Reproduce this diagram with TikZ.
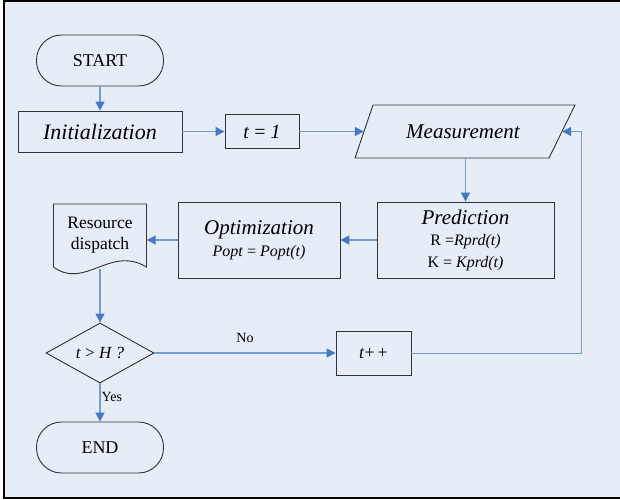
\documentclass[tikz,border=0pt]{standalone}
\usepackage{fontspec}
\setmainfont{Liberation Serif}
\usetikzlibrary{arrows.meta,shapes.geometric}
\definecolor{bgblue}{RGB}{230,237,247}
\definecolor{lineblue}{RGB}{115,155,212}
\definecolor{tipblue}{RGB}{70,120,200}
\definecolor{edgegray}{RGB}{50,50,50}
\begin{document}
\begin{tikzpicture}[x=1pt,y=-1pt,
  box/.style={draw=edgegray,line width=0.9pt,inner sep=0pt},
  conn/.style={draw=lineblue,line width=1.2pt,-{Triangle[length=9pt,width=9pt,color=tipblue]}},
  lbl/.style={font=\fontsize{14}{16}\selectfont}]
\useasboundingbox (0,0) rectangle (620,499);
\fill[white] (0,0) rectangle (620,499);
\fill[bgblue] (4,1) rectangle (620,498);
\draw[black,line width=2pt] (620,1) -- (4,1) -- (4,497.5) -- (620,497.5);

\node[box, rounded corners=25pt, minimum width=127pt, minimum height=51pt,
  font=\fontsize{18}{20}\selectfont] (start) at (100,60.5) {START};
\node[box, minimum width=164pt, minimum height=41pt,
  font=\fontsize{22}{24}\selectfont\itshape] (init) at (100,131.5) {Initialization};
\node[box, minimum width=74pt, minimum height=34pt,
  font=\fontsize{20}{22}\selectfont] (t1) at (262,131.5) {\textit{t} = \textit{1}};

\node[inner sep=0pt, minimum width=198pt, minimum height=53pt,
  font=\fontsize{21}{23}\selectfont\itshape] (meas) at (463,131.5) {Measurement};
\draw[draw=edgegray,line width=0.9pt] (373,105) -- (575,105) -- (549,158) -- (355,158) -- cycle;

\node[box, minimum width=177pt, minimum height=76pt, align=center,
  font=\fontsize{16}{21.5}\selectfont] (pred) at (465.5,240)
  {{\fontsize{21}{21}\selectfont\itshape Prediction}\\
   R =\textit{Rprd(t)}\\ K = \textit{Kprd(t)}};

\node[box, minimum width=162pt, minimum height=76pt, align=center,
  font=\fontsize{16}{22}\selectfont] (opt) at (259,240)
  {{\fontsize{21}{21}\selectfont\itshape Optimization}\\
   \textit{Popt} = \textit{Popt(t)}};

\node[inner sep=0pt, minimum width=93pt, minimum height=63pt, align=center,
  font=\fontsize{17.5}{21}\selectfont] (disp) at (100,235.5) {Resource\\dispatch};
\draw[draw=edgegray,line width=0.9pt] (53.5,267) -- (53.5,204) -- (146.5,204) -- (146.5,267)
  .. controls (110,245) and (85,290) .. (53.5,267);

\node[box, diamond, minimum width=108pt, minimum height=60pt,
  font=\fontsize{17}{19}\selectfont] (dec) at (100,353) {\textit{t} > \textit{H ?}};

\node[box, minimum width=75pt, minimum height=44pt,
  font=\fontsize{18}{20}\selectfont] (tpp) at (373.5,353.5) {\textit{t}+\,+};

\node[box, rounded corners=25pt, minimum width=127pt, minimum height=51pt,
  font=\fontsize{18}{20}\selectfont] (end) at (100,447.5) {END};

\draw[conn] (start) -- (init);
\draw[conn] (init.east) -- (init.east -| t1.west);
\draw[conn] (t1.east) -- (meas.west);
\draw[conn] (pred.north |- meas.south) -- (pred.north);
\draw[conn] (pred.west) -- (opt.east);
\draw[conn] (opt.west) -- (opt.west -| disp.east);
\draw[conn] (100,269) -- (dec.north);
\draw[conn] (dec.south) -- node[lbl, pos=0.35, right, inner sep=1pt] {Yes} (end.north);
\draw[conn] (dec.east) -- node[lbl, above=6pt] {No} (dec.east -| tpp.west);
\draw[conn] (tpp.east) -- ++(170,0) |- (meas.east);
\end{tikzpicture}
\end{document}
